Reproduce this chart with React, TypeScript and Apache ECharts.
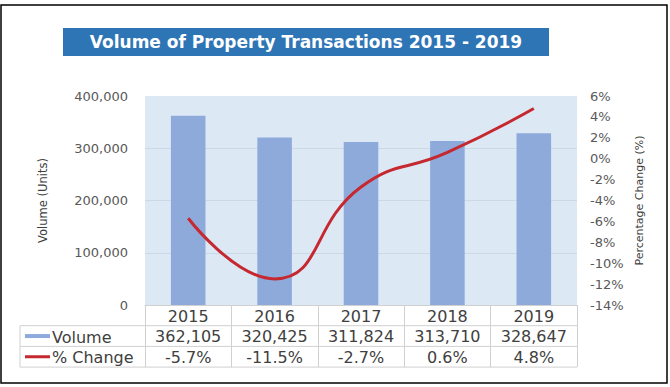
import React, { useEffect, useRef } from "react";
import * as echarts from "echarts";

const years = ["2015", "2016", "2017", "2018", "2019"];
const volume = [362105, 320425, 311824, 313710, 328647];
const pctChange = [-5.7, -11.5, -2.7, 0.6, 4.8];
const volumeTicks = { min: 0, max: 400000, interval: 100000 };
const pctTicks = { min: -14, max: 6, interval: 2 };
const titleText = "Volume of Property Transactions 2015 - 2019";
const seriesNames = ["Volume", "% Change"];

const FONT = "DejaVu Sans";
const GRID = { left: 145, right: 577, top: 96, bottom: 305 };
const ROW = 20.7;
const TABLE_LINE = "#d0d0d0";
const BAR_COLOR = "#8eaadb";
const LINE_COLOR = "#c5282f";

const fmtNum = (v: number) => v.toLocaleString("en-US");
const fmtPct = (v: number) => v.toFixed(1) + "%";

export default function App() {
  const ref = useRef<HTMLDivElement>(null);
  useEffect(() => {
    if (!ref.current) return;
    const chart = echarts.init(ref.current, undefined, { renderer: "svg" });
    const r1 = GRID.bottom + ROW;
    const r2 = GRID.bottom + 2 * ROW;
    const r3 = GRID.bottom + 3 * ROW;
    const extraAxis = (labels: string[], offset: number) => ({
      type: "category",
      data: labels,
      gridIndex: 0,
      position: "bottom",
      offset,
      axisLine: { show: false },
      axisTick: { show: false },
      splitLine: { show: false },
      axisLabel: {
        interval: 0,
        margin: 3,
        fontFamily: FONT,
        fontSize: 16,
        color: "#404040",
      },
    });
    chart.setOption({
      animation: false,
      backgroundColor: "#ffffff",
      grid: {
        left: GRID.left,
        right: 670 - GRID.right,
        top: GRID.top,
        bottom: 387 - GRID.bottom,
        show: true,
        backgroundColor: "#dde8f5",
        borderWidth: 0,
      },
      xAxis: [
        {
          type: "category",
          data: years,
          boundaryGap: true,
          axisLine: { show: true, lineStyle: { color: TABLE_LINE, width: 1 } },
          axisTick: {
            show: true,
            interval: 0,
            length: 3 * ROW,
            lineStyle: { color: TABLE_LINE, width: 1 },
          },
          axisLabel: {
            interval: 0,
            margin: 3,
            fontFamily: FONT,
            fontSize: 16,
            color: "#404040",
          },
          splitLine: { show: false },
        },
        extraAxis(volume.map(fmtNum), ROW),
        extraAxis(pctChange.map(fmtPct), 2 * ROW),
      ],
      yAxis: [
        {
          type: "value",
          min: volumeTicks.min,
          max: volumeTicks.max,
          interval: volumeTicks.interval,
          position: "left",
          name: "Volume (Units)",
          nameLocation: "middle",
          nameRotate: 90,
          nameGap: 96,
          nameTextStyle: { fontFamily: FONT, fontSize: 11.5, color: "#404040" },
          axisLine: { show: false },
          axisTick: { show: false },
          axisLabel: {
            margin: 17,
            fontFamily: FONT,
            fontSize: 13,
            color: "#595959",
            formatter: (v: number) => fmtNum(v),
          },
          splitLine: {
            show: true,
            showMaxLine: false,
            showMinLine: false,
            lineStyle: { color: "#cbd8e8", width: 1 },
          },
        },
        {
          type: "value",
          min: pctTicks.min,
          max: pctTicks.max,
          interval: pctTicks.interval,
          position: "right",
          name: "Percentage Change (%)",
          nameLocation: "middle",
          nameRotate: 90,
          nameGap: 57,
          nameTextStyle: { fontFamily: FONT, fontSize: 11, color: "#404040" },
          axisLine: { show: false },
          axisTick: { show: false },
          axisLabel: {
            margin: 13,
            fontFamily: FONT,
            fontSize: 13,
            color: "#595959",
            formatter: (v: number) => v + "%",
          },
          splitLine: { show: false },
        },
      ],
      series: [
        {
          name: seriesNames[0],
          type: "bar",
          xAxisIndex: 0,
          yAxisIndex: 0,
          data: volume,
          barWidth: "40%",
          itemStyle: { color: BAR_COLOR },
        },
        {
          name: seriesNames[1],
          type: "line",
          xAxisIndex: 0,
          yAxisIndex: 1,
          data: pctChange,
          smooth: 0.5,
          symbol: "none",
          lineStyle: { color: LINE_COLOR, width: 3 },
          z: 5,
        },
      ],
      graphic: [
        {
          type: "rect",
          shape: { x: 1, y: 5, width: 666, height: 378 },
          style: { fill: "none", stroke: "#000000", lineWidth: 1.5 },
          silent: true,
        },
        {
          type: "rect",
          shape: { x: 63, y: 28, width: 486, height: 28 },
          style: { fill: "#2e75b6" },
        },
        {
          type: "text",
          x: 306,
          y: 42,
          style: {
            text: titleText,
            fill: "#ffffff",
            font: `bold 17px "${FONT}"`,
            align: "center",
            verticalAlign: "middle",
          },
        },
        ...[r1, r2, r3].map((y) => ({
          type: "line",
          shape: { x1: 20, y1: y, x2: GRID.right, y2: y },
          style: { stroke: TABLE_LINE, lineWidth: 1 },
        })),
        {
          type: "line",
          shape: { x1: 20, y1: r1, x2: 20, y2: r3 },
          style: { stroke: TABLE_LINE, lineWidth: 1 },
        },
        {
          type: "rect",
          shape: { x: 25, y: r1 + ROW / 2 - 2, width: 25, height: 4 },
          style: { fill: BAR_COLOR },
        },
        {
          type: "line",
          shape: { x1: 25, y1: r2 + ROW / 2, x2: 50, y2: r2 + ROW / 2 },
          style: { stroke: LINE_COLOR, lineWidth: 3 },
        },
        {
          type: "text",
          x: 52,
          y: r1 + ROW / 2 + 1,
          style: {
            text: seriesNames[0],
            fill: "#404040",
            font: `16px "${FONT}"`,
            verticalAlign: "middle",
          },
        },
        {
          type: "text",
          x: 52,
          y: r2 + ROW / 2 + 1,
          style: {
            text: seriesNames[1],
            fill: "#404040",
            font: `16px "${FONT}"`,
            verticalAlign: "middle",
          },
        },
      ],
    });
    return () => chart.dispose();
  }, []);
  return (
    <div
      ref={ref}
      style={{
        position: "fixed",
        left: 0,
        top: 0,
        width: 670,
        height: 387,
        background: "#fff",
      }}
    />
  );
}
